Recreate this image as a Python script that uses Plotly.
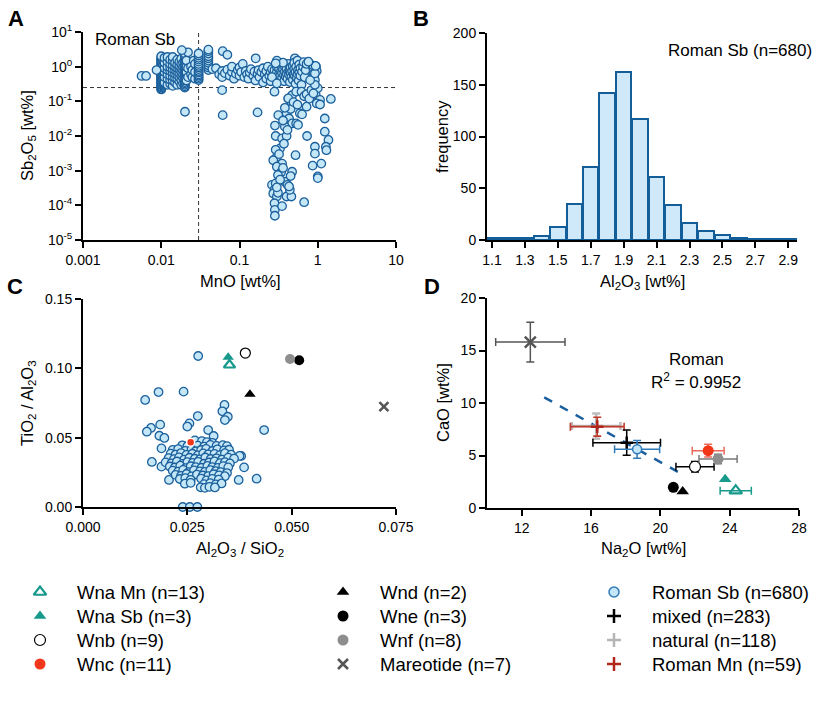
import plotly.graph_objects as go

W, H = 835, 702
FONT = "Liberation Sans, Arial, sans-serif"

# ---------------- Panel A: MnO vs Sb2O5 (Roman Sb glass) ----------------
a_points = [
    (0.01,0.22),(0.01,0.23),(0.01,0.25),(0.01,0.27),(0.01,0.29),(0.01,0.31),(0.01,0.33),(0.01,0.35),
    (0.01,0.37),(0.01,0.40),(0.01,0.42),(0.01,0.45),(0.01,0.47),(0.01,0.50),(0.01,0.53),(0.01,0.56),
    (0.01,0.59),(0.01,0.62),(0.01,0.66),(0.01,0.70),(0.01,0.74),(0.01,0.78),(0.01,0.83),(0.01,0.88),
    (0.01,0.93),(0.01,0.98),(0.01,1.05),(0.01,1.12),(0.01,1.2),(0.01,1.3),(0.01,1.42),(0.01,1.55),
    (0.01,1.7),(0.01,1.85),(0.01,2.0),
    (0.011,0.35),(0.011,0.5),(0.011,0.7),(0.011,0.9),(0.011,1.3),(0.011,1.8),
    (0.012,0.3),(0.012,0.45),(0.012,0.6),(0.012,0.8),(0.012,1.0),(0.012,1.4),(0.012,1.9),
    (0.013,0.32),(0.013,0.42),(0.013,0.55),(0.013,0.75),(0.013,0.95),(0.013,1.2),(0.013,1.6),
    (0.014,0.28),(0.014,0.4),(0.014,0.52),(0.014,0.68),(0.014,0.85),(0.014,1.1),(0.014,1.5),(0.014,1.9),
    (0.015,0.35),(0.015,0.48),(0.015,0.62),(0.015,0.8),(0.015,1.0),(0.015,1.3),
    (0.016,0.3),(0.016,0.45),(0.016,0.58),(0.016,0.72),(0.016,0.9),(0.016,1.15),(0.016,1.6),
    (0.017,0.38),(0.017,0.5),(0.017,0.65),(0.017,0.85),(0.017,1.05),(0.017,1.4),
    (0.018,0.3),(0.018,0.42),(0.018,0.55),(0.018,0.7),(0.018,0.9),(0.018,1.2),(0.018,1.7),
    (0.019,0.33),(0.019,0.47),(0.019,0.6),(0.019,0.78),(0.019,1.0),(0.019,1.3),
    (0.02,0.25),(0.02,0.27),(0.02,0.3),(0.02,0.33),(0.02,0.36),(0.02,0.4),(0.02,0.44),(0.02,0.48),
    (0.02,0.52),(0.02,0.56),(0.02,0.6),(0.02,0.65),(0.02,0.7),(0.02,0.75),(0.02,0.8),(0.02,0.86),
    (0.02,0.92),(0.02,1.0),(0.02,1.1),(0.02,1.2),(0.02,1.35),(0.02,1.5),(0.02,1.7),(0.02,1.9),
    (0.02,2.1),(0.02,2.4),
    (0.021,0.4),(0.021,0.7),(0.021,1.0),(0.021,1.5),(0.022,2.6),(0.022,0.5),(0.022,0.9),
    (0.024,0.6),(0.024,1.0),(0.025,0.5),(0.025,0.8),(0.026,1.5),(0.027,0.45),(0.027,0.7),(0.027,1.2),
    (0.03,0.41),(0.03,0.45),(0.03,0.5),(0.03,0.55),(0.03,0.6),(0.03,0.68),(0.03,0.75),(0.03,0.85),
    (0.03,0.95),(0.03,1.05),(0.03,1.2),(0.03,1.4),(0.03,1.6),(0.03,1.8),(0.03,2.1),(0.03,2.4),
    (0.04,0.8),(0.04,0.95),(0.04,1.1),(0.04,1.3),(0.04,1.5),(0.04,1.75),(0.04,2.0),(0.04,2.4),
    (0.04,2.8),(0.04,3.1),
    (0.0056,0.54),(0.0064,0.54),(0.0087,0.80),(0.0183,3.0),(0.0201,0.05),(0.061,0.04),(0.06,0.21),
    (0.061,2.8),(0.07,2.2),(0.161,1.74),(0.17,0.048),(0.3,1.49),(0.51,1.74),(0.28,0.19),
    (0.045,0.85),(0.05,0.9),(0.055,0.6),(0.06,0.75),(0.06,0.5),(0.065,0.65),(0.07,0.82),(0.075,0.55),
    (0.08,0.7),(0.08,1.0),(0.085,0.45),(0.09,0.62),(0.095,0.8),(0.1,0.55),(0.1,0.95),(0.105,0.7),
    (0.11,1.2),(0.115,0.5),(0.12,0.75),(0.125,0.6),(0.13,0.45),(0.135,0.68),(0.14,0.85),(0.15,0.55),
    (0.155,0.72),(0.16,0.4),(0.17,0.62),(0.175,0.8),(0.18,0.5),(0.19,0.7),(0.2,0.9),(0.2,0.35),
    (0.21,0.6),(0.22,0.45),(0.22,0.75),(0.23,1.0),(0.24,0.55),(0.25,0.7),(0.25,0.38),(0.26,0.85),
    (0.27,0.6),(0.28,0.8),(0.29,0.5),(0.3,0.7),(0.3,1.0),(0.31,0.42),(0.32,0.62),(0.32,0.9),
    (0.33,0.55),(0.34,0.75),(0.34,1.1),(0.35,0.48),(0.35,0.65),(0.36,0.85),(0.37,0.58),(0.37,0.38),
    (0.38,0.72),(0.38,1.0),(0.39,0.52),(0.4,0.63),(0.4,0.88),(0.41,0.45),(0.42,0.7),(0.42,1.2),
    (0.43,0.58),(0.44,0.8),(0.44,0.36),(0.45,0.66),(0.45,0.95),(0.46,0.5),(0.47,0.75),(0.48,1.05),
    (0.48,0.42),(0.49,0.6),(0.5,0.85),(0.5,1.3),(0.51,0.55),(0.52,0.7),(0.52,0.32),(0.53,1.0),
    (0.54,0.48),(0.55,0.62),(0.55,1.5),(0.56,0.8),(0.57,0.4),(0.58,0.68),(0.58,1.15),(0.6,0.55),
    (0.6,0.9),(0.62,0.3),(0.63,0.72),(0.65,1.0),(0.66,1.35),(0.68,0.5),(0.7,0.8),(0.72,1.2),
    (0.36,1.3),(0.29,1.25),(0.26,0.5),(0.3,0.33),
    (0.87,0.99),(0.88,0.8),(0.88,0.62),(0.9,0.5),(0.92,0.41),(0.95,1.0),(0.97,0.75),
    (0.42,0.12),(0.47,0.15),(0.53,0.19),(0.62,0.19),(0.67,0.14),(0.72,0.16),(0.78,0.12),(0.83,0.21),
    (0.94,0.16),(1.0,0.24),(1.07,0.11),(0.92,0.30),(0.80,0.41),(0.92,0.64),(0.88,1.07),(0.94,1.05),
    (0.76,1.39),
    (0.42,0.122),(0.44,0.070),(0.40,0.045),(0.43,0.032),(0.47,0.023),(0.38,0.0186),(0.313,0.040),
    (0.284,0.020),(0.29,0.010),(0.35,0.0085),(0.40,0.010),(0.31,0.0035),(0.33,0.0044),(0.30,0.0025),
    (0.27,0.0020),(0.35,0.0016),(0.30,0.0013),(0.34,0.0009),(0.31,0.00075),(0.38,0.00048),
    (0.41,0.00039),(0.26,0.00039),(0.29,0.00043),(0.28,0.00028),(0.27,0.00022),(0.30,0.00018),
    (0.31,0.00023),(0.28,0.000115),(0.283,0.000074),(0.283,0.00005),(0.35,0.000095),(0.40,0.00018),
    (0.46,0.00018),(0.44,0.00028),(0.43,0.00035),(0.47,0.00093),(0.45,0.0007),(0.52,0.0028),
    (0.59,0.045),(0.53,0.023),(0.56,0.021),(0.72,0.070),(0.63,0.042),(0.73,0.010),(0.88,0.17),
    (0.97,0.087),(1.07,0.081),(0.92,0.0049),(0.92,0.0031),(0.86,0.0014),(1.0,0.00068),(1.0,0.00061),
    (1.11,0.0016),(1.23,0.032),(1.23,0.0133),(1.37,0.0077),(1.27,0.0049),(1.29,0.0039),(1.47,0.117),
    (0.67,0.000123),(0.29,0.0040),(0.32,0.0030),(0.36,0.0012),(0.33,0.00055),(0.30,0.00033),
    (0.37,0.0060),(0.41,0.015),(0.36,0.028),(0.45,0.060),(0.49,0.095),(0.55,0.080),(0.38,0.065),
]

# ---------------- Panel B: Al2O3 histogram (Roman Sb, n=680) ----------------
b_bins = [1.1,1.2,1.3,1.4,1.5,1.6,1.7,1.8,1.9,2.0,2.1,2.2,2.3,2.4,2.5,2.6,2.7,2.8,2.9]
b_freq = [2,2,2,4,13,35,71,142,162,117,61,34,16,9,5,2,1,1,1]
b_ticks = [1.1,1.3,1.5,1.7,1.9,2.1,2.3,2.5,2.7,2.9]

# ---------------- Panel C: Al2O3/SiO2 vs TiO2/Al2O3 (Roman Sb) ----------------
c_roman_sb = [
    (0.0276,0.1089),(0.0149,0.0772),(0.0181,0.0829),(0.0241,0.0832),(0.0339,0.0736),(0.0334,0.069),
    (0.0347,0.0651),(0.034,0.0627),(0.0275,0.0656),(0.0255,0.0603),(0.025,0.058),(0.0185,0.0594),
    (0.0163,0.057),(0.0153,0.0543),(0.0183,0.0514),(0.0195,0.0498),(0.0188,0.0423),(0.0165,0.0325),
    (0.0188,0.0291),(0.0206,0.0195),(0.030,0.0555),(0.0313,0.0512),(0.0434,0.0555),(0.0379,0.0368),
    (0.0386,0.0286),(0.0373,0.0195),(0.0416,0.0204),(0.0239,0.0),(0.0256,0.0),(0.0274,0.0),
    (0.0268,0.048),(0.0285,0.0475),(0.0297,0.0468),(0.031,0.0462),
    (0.0238,0.0445),(0.025,0.0438),(0.0275,0.0442),(0.029,0.0435),(0.0305,0.0448),(0.032,0.0441),
    (0.0335,0.0446),(0.0345,0.0439),
    (0.0215,0.0412),(0.0228,0.0418),(0.0245,0.0405),(0.026,0.0415),(0.027,0.0402),(0.0283,0.0411),
    (0.0295,0.0419),(0.031,0.0404),(0.0322,0.0416),(0.0338,0.0408),(0.035,0.0413),
    (0.021,0.0385),(0.0222,0.0378),(0.0235,0.0389),(0.0248,0.0376),(0.0262,0.0384),(0.0275,0.0372),
    (0.0288,0.0387),(0.030,0.0379),(0.0315,0.0383),(0.0328,0.0374),(0.034,0.0388),(0.0355,0.0377),
    (0.0375,0.0368),
    (0.0205,0.0352),(0.0218,0.0345),(0.023,0.0358),(0.0242,0.0341),(0.0255,0.0355),(0.0268,0.0348),
    (0.028,0.0343),(0.0293,0.0357),(0.0306,0.0346),(0.032,0.0351),(0.0333,0.0342),(0.0348,0.0356),
    (0.0362,0.0349),
    (0.0198,0.0322),(0.0212,0.0315),(0.0225,0.0328),(0.0238,0.0311),(0.025,0.0324),(0.0263,0.0318),
    (0.0276,0.0326),(0.029,0.0312),(0.0302,0.0321),(0.0315,0.0329),(0.0328,0.0316),(0.034,0.0323),
    (0.0352,0.0314),
    (0.0208,0.0292),(0.022,0.0285),(0.0233,0.0298),(0.0246,0.0281),(0.0258,0.0294),(0.027,0.0287),
    (0.0284,0.0283),(0.0298,0.0296),(0.031,0.0288),(0.0323,0.0282),(0.0336,0.0295),(0.0348,0.0286),
    (0.0215,0.0262),(0.0228,0.0255),(0.024,0.0268),(0.0253,0.0251),(0.0266,0.0264),(0.028,0.0257),
    (0.0292,0.0253),(0.0305,0.0266),(0.0318,0.0258),(0.033,0.0252),(0.0345,0.0245),
    (0.0222,0.0232),(0.0235,0.0225),(0.0248,0.0238),(0.026,0.0221),(0.0273,0.0234),(0.0287,0.0227),
    (0.030,0.0223),(0.0313,0.0236),(0.0326,0.0228),(0.034,0.0222),
    (0.0232,0.0202),(0.0245,0.0208),(0.0258,0.0196),(0.0283,0.0205),(0.0296,0.0192),(0.031,0.0203),
    (0.0325,0.0198),
    (0.0244,0.0168),(0.0258,0.0174),(0.029,0.0165),(0.0305,0.0172),(0.0318,0.0163),(0.0332,0.0170),
    (0.0282,0.0142),(0.0292,0.0138),(0.0303,0.0145),(0.0316,0.0141),
]

# ---------------- Group means (panels C and D) ----------------
groups     = ["Wna Mn (n=13)", "Wna Sb (n=3)", "Wnb (n=9)", "Wnc (n=11)",
              "Wnd (n=2)", "Wne (n=3)", "Wnf (n=8)", "Mareotide (n=7)"]
c_ratio_x  = [0.0351, 0.0348, 0.0389, 0.0258, 0.0400, 0.0518, 0.0496, 0.0721]
c_ratio_y  = [0.1024, 0.1080, 0.1110, 0.0467, 0.0813, 0.1058, 0.1067, 0.0723]
d_na2o     = [24.35, 23.74, 22.0, 22.76, 21.29, 20.75, 23.33, 12.5]
d_cao      = [1.65, 2.73, 3.93, 5.46, 1.56, 1.97, 4.67, 15.8]
d_na2o_sd  = [0.9, 0, 1.1, 0.92, 0, 0, 1.1, 2.0]
d_cao_sd   = [0, 0, 0.5, 0.6, 0, 0, 0.45, 1.9]

roman_groups  = ["natural (n=118)", "Roman Mn (n=59)", "mixed (n=283)", "Roman Sb (n=680)"]
r_na2o        = [16.3, 16.36, 18.06, 18.66]
r_cao         = [7.8, 7.75, 6.22, 5.59]
r_na2o_sd     = [1.4, 1.55, 1.95, 1.3]
r_cao_sd      = [1.2, 0.9, 1.2, 0.85]

trend_na2o = [13.3, 21.44]
trend_cao  = [10.54, 3.05]
r_squared  = "0.9952"

# guide lines panel A
a_mno_limit = 0.03
a_sb_limit = 0.25

# legend (three columns, four rows)
legend_cols = [
    ["Wna Mn (n=13)", "Wna Sb (n=3)", "Wnb (n=9)", "Wnc (n=11)"],
    ["Wnd (n=2)", "Wne (n=3)", "Wnf (n=8)", "Mareotide (n=7)"],
    ["Roman Sb (n=680)", "mixed (n=283)", "natural (n=118)", "Roman Mn (n=59)"],
]

# ---------------- styles ----------------
SB_FILL, SB_EDGE = "#c4e7f8", "#1b609c"
TEAL = "#17998b"
styles = {
    "Wna Mn (n=13)": dict(symbol="triangle-up-open", color=TEAL, lw=2.2, err=TEAL),
    "Wna Sb (n=3)": dict(symbol="triangle-up", color=TEAL, lw=0, err=TEAL),
    "Wnb (n=9)": dict(symbol="circle", color="white", line="black", lw=1.2, err="black"),
    "Wnc (n=11)": dict(symbol="circle", color="#f2361a", lw=0, err="#ea6a5a"),
    "Wnd (n=2)": dict(symbol="triangle-up", color="black", lw=0, err="black"),
    "Wne (n=3)": dict(symbol="circle", color="black", lw=0, err="black"),
    "Wnf (n=8)": dict(symbol="circle", color="#8e8e8e", lw=0, err="#7a7a7a"),
    "Mareotide (n=7)": dict(symbol="x-thin", color="#555555", lw=2.5, err="#555555"),
}
rstyles = {
    "natural (n=118)": dict(color="#b5b5b5", err="#bdbdbd", th=2.5),
    "Roman Mn (n=59)": dict(color="#b0261c", err="#c0392b", th=1.6),
    "mixed (n=283)": dict(color="black", err="black", th=1.5),
    "Roman Sb (n=680)": dict(color=SB_FILL, err="#2f7ab8", th=1.5),
}

def marker_for(g, size=11):
    if g in styles:
        s = styles[g]
        return dict(symbol=s["symbol"], size=size if s["symbol"] != "x-thin" else size - 1,
                    color=s["color"], line=dict(color=s.get("line", s["color"]), width=s["lw"]))
    if g == "Roman Sb (n=680)":
        return dict(symbol="circle", size=size - 1, color=SB_FILL, line=dict(color="#2f7ab8", width=1.5))
    c = rstyles[g]["color"]
    return dict(symbol="cross-thin", size=size - 1, color=c, line=dict(color=c, width=2.5))

fig = go.Figure()

DASH = "4px,3px"
# Panel A
fig.add_trace(go.Scatter(x=[a_mno_limit, a_mno_limit], y=[1e-5, 10], mode="lines",
                         line=dict(color="#333", width=1, dash=DASH), xaxis="x", yaxis="y",
                         showlegend=False, hoverinfo="skip"))
fig.add_trace(go.Scatter(x=[0.001, 10], y=[a_sb_limit, a_sb_limit], mode="lines",
                         line=dict(color="#333", width=1, dash=DASH), xaxis="x", yaxis="y",
                         showlegend=False, hoverinfo="skip"))
fig.add_trace(go.Scatter(x=[p[0] for p in a_points], y=[p[1] for p in a_points], mode="markers",
                         marker=dict(size=8.5, color=SB_FILL, line=dict(color=SB_EDGE, width=1.3)),
                         xaxis="x", yaxis="y", showlegend=False, name="Roman Sb (n=680)"))

# Panel B
fig.add_trace(go.Bar(x=b_bins, y=b_freq, width=0.094, xaxis="x2", yaxis="y2",
                     marker=dict(color="#cfe9fb", line=dict(color="#135d99", width=2)),
                     showlegend=False, name="Roman Sb (n=680)"))

# Panel C
fig.add_trace(go.Scatter(x=[p[0] for p in c_roman_sb], y=[p[1] for p in c_roman_sb], mode="markers",
                         marker=dict(size=8.5, color=SB_FILL, line=dict(color=SB_EDGE, width=1.3)),
                         xaxis="x3", yaxis="y3", showlegend=False, cliponaxis=False,
                         name="Roman Sb (n=680)"))
for i, g in enumerate(groups):
    mk = marker_for(g, 10)
    if g == "Wnc (n=11)":
        mk = dict(symbol="circle", size=8, color=styles[g]["color"], line=dict(color="white", width=1.5))
    fig.add_trace(go.Scatter(x=[c_ratio_x[i]], y=[c_ratio_y[i]], mode="markers", marker=mk,
                             xaxis="x3", yaxis="y3", showlegend=False, name=g))

# Panel D
fig.add_trace(go.Scatter(x=trend_na2o, y=trend_cao, mode="lines",
                         line=dict(color="#1c5f9f", width=2.5, dash="dash"),
                         xaxis="x4", yaxis="y4", showlegend=False, hoverinfo="skip"))
for i, g in enumerate(roman_groups):
    s = rstyles[g]
    fig.add_trace(go.Scatter(
        x=[r_na2o[i]], y=[r_cao[i]], mode="markers", marker=marker_for(g, 10),
        error_x=dict(type="data", array=[r_na2o_sd[i]], color=s["err"], thickness=s["th"], width=4),
        error_y=dict(type="data", array=[r_cao_sd[i]], color=s["err"], thickness=s["th"], width=4),
        xaxis="x4", yaxis="y4", showlegend=False, name=g))
for i, g in enumerate(groups):
    s = styles[g]
    kw = {}
    if d_na2o_sd[i] > 0:
        kw["error_x"] = dict(type="data", array=[d_na2o_sd[i]], color=s["err"], thickness=1.5, width=4)
    if d_cao_sd[i] > 0:
        kw["error_y"] = dict(type="data", array=[d_cao_sd[i]], color=s["err"], thickness=1.5, width=4)
    mk = marker_for(g, 12 if g == "Mareotide (n=7)" else 11)
    fig.add_trace(go.Scatter(x=[d_na2o[i]], y=[d_cao[i]], mode="markers", marker=mk,
                             xaxis="x4", yaxis="y4", showlegend=False, name=g, **kw))

# Legend keys drawn on a full-page pixel overlay axis
LEG_KEY_X = [40, 343, 614]
LEG_TEXT_X = [75, 378, 650]
LEG_ROW_Y = [592, 616, 640, 664]
for ci, col in enumerate(legend_cols):
    for ri, g in enumerate(col):
        fig.add_trace(go.Scatter(x=[LEG_KEY_X[ci]], y=[LEG_ROW_Y[ri]], mode="markers",
                                 marker=marker_for(g, 11), xaxis="x5", yaxis="y5",
                                 showlegend=False, name=g, hoverinfo="name"))
        fig.add_annotation(text=g, x=LEG_TEXT_X[ci], y=LEG_ROW_Y[ri], xref="x5", yref="y5",
                           xanchor="left", yanchor="middle", showarrow=False,
                           font=dict(size=18.5, family=FONT, color="black"))

def dom_x(x0, x1):
    return [x0 / W, x1 / W]

def dom_y(top, bottom):
    return [1 - bottom / H, 1 - top / H]

axis_base = dict(showline=True, linewidth=2, linecolor="black", ticks="outside", ticklen=6,
                 tickwidth=2, tickcolor="black", showgrid=False, zeroline=False, mirror=False,
                 automargin=False, tickfont=dict(size=14, color="black", family=FONT),
                 fixedrange=True)

sup = lambda e: "10<sup>%d</sup>" % e

fig.update_layout(
    width=W, height=H, margin=dict(l=0, r=0, t=0, b=0, autoexpand=False),
    paper_bgcolor="white", plot_bgcolor="rgba(0,0,0,0)",
    font=dict(family=FONT, color="black", size=14),
    bargap=0, showlegend=False,
    xaxis=dict(axis_base, type="log", domain=dom_x(83, 396), range=[-3, 1], anchor="y",
               tickvals=[0.001, 0.01, 0.1, 1, 10], ticktext=["0.001", "0.01", "0.1", "1", "10"]),
    yaxis=dict(axis_base, type="log", domain=dom_y(32, 240), range=[-5, 1], anchor="x",
               tickvals=[1e-5, 1e-4, 1e-3, 1e-2, 1e-1, 1, 10],
               ticktext=[sup(e) for e in range(-5, 2)]),
    xaxis2=dict(axis_base, domain=dom_x(487, 797), range=[1.07, 2.953], anchor="y2",
                tickvals=b_ticks, ticktext=["%.1f" % t for t in b_ticks]),
    yaxis2=dict(axis_base, domain=dom_y(33, 240), range=[0, 200], anchor="x2",
                tickvals=[0, 50, 100, 150, 200]),
    xaxis3=dict(axis_base, domain=dom_x(83, 396), range=[0, 0.075], anchor="y3",
                tickvals=[0, 0.025, 0.05, 0.075], ticktext=["0.000", "0.025", "0.050", "0.075"]),
    yaxis3=dict(axis_base, domain=dom_y(299, 507), range=[0, 0.15], anchor="x3",
                tickvals=[0, 0.05, 0.1, 0.15], ticktext=["0.00", "0.05", "0.10", "0.15"]),
    xaxis4=dict(axis_base, domain=dom_x(487, 799), range=[10, 28], anchor="y4",
                tickvals=[12, 16, 20, 24, 28]),
    yaxis4=dict(axis_base, domain=dom_y(298, 508), range=[0, 20], anchor="x4",
                tickvals=[0, 5, 10, 15, 20]),
    xaxis5=dict(domain=[0, 1], range=[0, W], visible=False, fixedrange=True, anchor="y5"),
    yaxis5=dict(domain=[0, 1], range=[H, 0], visible=False, fixedrange=True, anchor="x5"),
)

def ann(text, x, y, size=16, bold=False, angle=0, xanchor="center"):
    if bold:
        text = "<b>%s</b>" % text
    fig.add_annotation(text=text, x=x / W, y=1 - y / H, xref="paper", yref="paper",
                       showarrow=False, textangle=angle, xanchor=xanchor, yanchor="middle",
                       font=dict(size=size, family=FONT, color="black"))

# panel letters
ann("A", 16, 18, 22, bold=True)
ann("B", 421, 18, 22, bold=True)
ann("C", 15, 287, 22, bold=True)
ann("D", 432, 287, 22, bold=True)
# axis titles
ann("MnO [wt%]", 240, 281, 16.5)
ann("Sb<sub>2</sub>O<sub>5</sub> [wt%]", 28, 136, 16.5, angle=-90)
ann("Al<sub>2</sub>O<sub>3</sub> [wt%]", 642, 282, 16.5)
ann("frequency", 442, 137, 16.5, angle=-90)
ann("Al<sub>2</sub>O<sub>3</sub> / SiO<sub>2</sub>", 240, 549, 16.5)
ann("TiO<sub>2</sub> / Al<sub>2</sub>O<sub>3</sub>", 28, 403, 16.5, angle=-90)
ann("Na<sub>2</sub>O [wt%]", 643, 549, 16.5)
ann("CaO [wt%]", 443, 403, 16.5, angle=-90)
# in-panel labels
ann("Roman Sb", 135, 40, 17)
ann("Roman Sb (n=680)", 740, 50, 17)
ann("Roman", 696, 359, 17)
ann("R<sup>2</sup> = " + r_squared, 696, 381, 17)

fig.write_html("out.html")
